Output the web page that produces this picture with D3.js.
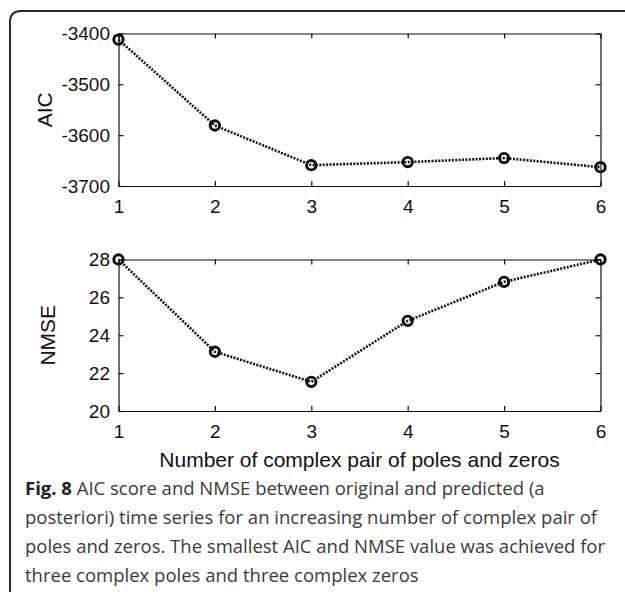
<!DOCTYPE html>
<html>
<head>
<meta charset="utf-8">
<script src="https://cdn.jsdelivr.net/npm/d3@7"></script>
<style>
  html, body { margin: 0; padding: 0; background: #fff; }
  svg { display: block; }
  .ax text { font-family: "Liberation Sans", Arial, sans-serif; font-size: 19px; fill: #111; }
  .ax path, .ax line { stroke: #111; stroke-width: 1.2; }
</style>
</head>
<body>
<svg id="fig" width="625" height="592"></svg>
<script>
// Model order: number of complex pole/zero pairs
const orders = [1, 2, 3, 4, 5, 6];
// Akaike information criterion per model order
const aicValues = [-3412, -3581, -3659, -3653, -3645, -3663];
// Normalised mean squared error per model order
const nmseValues = [28.0, 23.13, 21.54, 24.76, 26.82, 28.0];
// Axis tick values
const xTicks = [1, 2, 3, 4, 5, 6];
const aicTicks = [-3700, -3600, -3500, -3400];
const nmseTicks = [20, 22, 24, 26, 28];

const xLabel = "Number of complex pair of poles and zeros";
const captionLines = [
  [{b: true, t: "Fig. 8"}, {b: false, t: " AIC score and NMSE between original and predicted (a"}],
  [{b: false, t: "posteriori) time series for an increasing number of complex pair of"}],
  [{b: false, t: "poles and zeros. The smallest AIC and NMSE value was achieved for"}],
  [{b: false, t: "three complex poles and three complex zeros"}]
];

const svg = d3.select("#fig");

// Caption frame: rounded corner at top-left, open to the right and bottom
svg.append("path")
  .attr("d", "M10,600 L10,22 Q10,11 21,11 L640,11")
  .attr("fill", "none").attr("stroke", "#2a2a2a").attr("stroke-width", 2);

const left = 118.5, right = 600.5;
const x = d3.scaleLinear().domain([1, 6]).range([left, right]);

function panel(top, bottom, domain, ticks, values, label, labelX) {
  const y = d3.scaleLinear().domain(domain).range([bottom, top]);
  const g = svg.append("g");

  // bottom axis with labels
  g.append("g").attr("class", "ax")
    .attr("transform", `translate(0,${bottom})`)
    .call(d3.axisBottom(x).tickValues(xTicks).tickFormat(d3.format("d"))
      .tickSizeInner(-5).tickSizeOuter(0).tickPadding(13.5));
  // top axis, ticks only
  g.append("g").attr("class", "ax")
    .attr("transform", `translate(0,${top})`)
    .call(d3.axisTop(x).tickValues(xTicks).tickFormat("")
      .tickSizeInner(-5).tickSizeOuter(0));
  // left axis with labels
  g.append("g").attr("class", "ax")
    .attr("transform", `translate(${left},0)`)
    .call(d3.axisLeft(y).tickValues(ticks).tickFormat(d3.format("d"))
      .tickSizeInner(-5).tickSizeOuter(0).tickPadding(8.5));
  // right axis, ticks only
  g.append("g").attr("class", "ax")
    .attr("transform", `translate(${right},0)`)
    .call(d3.axisRight(y).tickValues(ticks).tickFormat("")
      .tickSizeInner(-5).tickSizeOuter(0));

  // minus signs as plain hyphens
  g.selectAll(".ax text").text(function() { return d3.select(this).text().replace("\u2212", "-"); });

  const pts = orders.map((o, i) => [x(o), y(values[i])]);
  g.append("path")
    .attr("d", d3.line()(pts))
    .attr("fill", "none").attr("stroke", "#111")
    .attr("stroke-width", 2.6).attr("stroke-dasharray", "2,1.4");
  g.selectAll("circle").data(pts).join("circle")
    .attr("cx", d => d[0]).attr("cy", d => d[1]).attr("r", 4.7)
    .attr("fill", "none").attr("stroke", "#0a0a0a").attr("stroke-width", 2.9);

  g.append("text")
    .attr("transform", `translate(${labelX},${(top + bottom) / 2}) rotate(-90)`)
    .attr("text-anchor", "middle").attr("dy", "0.36em")
    .style("font-family", "'Liberation Sans', Arial, sans-serif")
    .style("font-size", "21px").attr("fill", "#111")
    .text(label);
}

panel(33.5, 186, [-3700, -3400], aicTicks, aicValues, "AIC", 44);
panel(259.5, 411, [20, 28], nmseTicks, nmseValues, "NMSE", 47.5);

svg.append("text")
  .attr("x", (left + right) / 2).attr("y", 467)
  .attr("text-anchor", "middle")
  .style("font-family", "'Liberation Sans', Arial, sans-serif")
  .style("font-size", "21px").attr("fill", "#111")
  .text(xLabel);

const cap = svg.append("text")
  .style("font-family", "'Open Sans', 'Noto Sans', sans-serif")
  .style("font-size", "18.5px").attr("fill", "#3a3a3a");
captionLines.forEach((line, i) => {
  line.forEach((seg, j) => {
    const t = cap.append("tspan").text(seg.t);
    if (j === 0) t.attr("x", 25).attr("y", 495 + i * 29);
    if (seg.b) t.style("font-weight", "bold").attr("fill", "#222");
  });
});
</script>
</body>
</html>
